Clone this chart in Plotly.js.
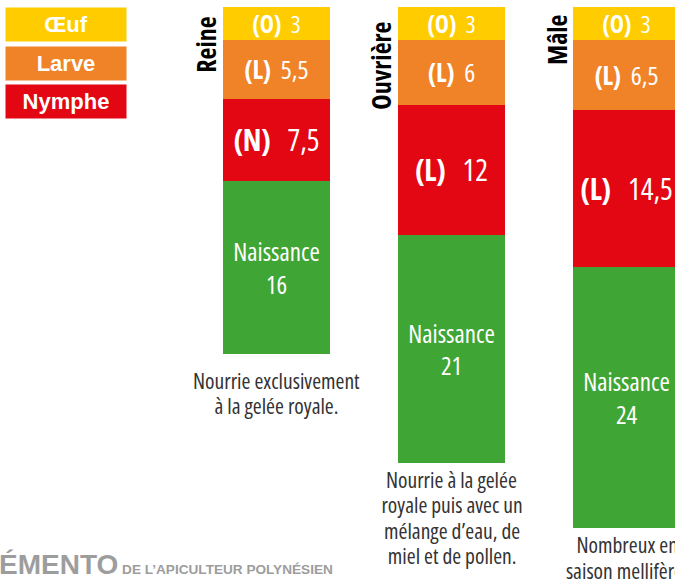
<!DOCTYPE html>
<html>
<head>
<meta charset="utf-8">
<script src="https://cdn.plot.ly/plotly-3.0.1.min.js"></script>
<style>
html,body{margin:0;padding:0;background:#fff;}
#chart{width:675px;height:583px;}
#chart svg text{font-stretch:75%;}
</style>
</head>
<body>
<div id="chart"></div>
<script>
// ---- data ----
var categories = ['Reine', 'Ouvrière', 'Mâle'];
var oeuf = [3, 3, 3];
var larve = [5.5, 6, 6.5];
var nymphe = [7.5, 12, 14.5];
var naissance = [16, 21, 24];
var oeufTags = ['(O)', '(O)', '(O)'];
var larveTags = ['(L)', '(L)', '(L)'];
var nympheTags = ['(N)', '(L)', '(L)'];
var naissanceLabel = 'Naissance';
var legendLabels = ['Œuf', 'Larve', 'Nymphe'];
var captionLines = [
  ['Nourrie exclusivement', 'à la gelée royale.'],
  ['Nourrie à la gelée', 'royale puis avec un', 'mélange d’eau, de', 'miel et de pollen.'],
  ['Nombreux en', 'saison mellifère.']
];
var footerBig = 'ÉMENTO';
var footerSmall = 'DE L’APICULTEUR POLYNÉSIEN';

// ---- style ----
var COLORS = ['#FFCC00', '#F08228', '#E30613', '#3FA535'];
var COND = '"Open Sans", sans-serif';          // rendered condensed through CSS font-stretch
var PLAIN = '"Liberation Sans", Arial, sans-serif';
var W = 675, H = 583;
function fmt(v) { return String(v).replace('.', ','); }
function py(p) { return 1 - p / H; }
function pxp(p) { return p / W; }

function seg(name, vals, tags, color, sizes, gap) {
  return {
    type: 'bar', name: name, x: categories, y: vals,
    marker: { color: color, line: { width: 0 } },
    text: vals.map(function (v, i) { return '<b>' + tags[i] + '</b>' + gap + fmt(v); }),
    textposition: 'inside', insidetextanchor: 'middle', textangle: 0,
    constraintext: 'none',
    textfont: { family: COND, color: '#ffffff', size: sizes },
    width: 0.611, hoverinfo: 'skip'
  };
}

var traces = [
  seg(legendLabels[0], oeuf, oeufTags, COLORS[0], [24, 24, 24], '  '),
  seg(legendLabels[1], larve, larveTags, COLORS[1], [26, 26, 26], '  '),
  seg(legendLabels[2], nymphe, nympheTags, COLORS[2], [30, 30, 30], '   '),
  {
    type: 'bar', name: naissanceLabel, x: categories, y: naissance,
    marker: { color: COLORS[3], line: { width: 0 } },
    text: naissance.map(function (v) { return naissanceLabel + '<br>' + fmt(v); }),
    textposition: 'inside', insidetextanchor: 'middle', textangle: 0,
    constraintext: 'none',
    textfont: { family: COND, color: '#ffffff', size: 25 },
    width: 0.611, hoverinfo: 'skip'
  }
];

var annotations = [];
// legend boxes
var legendTops = [7, 46, 84];
legendLabels.forEach(function (lab, i) {
  annotations.push({
    xref: 'paper', yref: 'paper', x: pxp(5), y: py(legendTops[i]),
    xanchor: 'left', yanchor: 'top', showarrow: false,
    text: '<b>' + lab + '</b>', width: 120, height: 33, borderpad: 0,
    bgcolor: COLORS[i], align: 'center', valign: 'middle',
    font: { family: PLAIN, size: 22, color: '#ffffff' }
  });
});
// category labels (rotated)
categories.forEach(function (c, i) {
  annotations.push({
    xref: 'x', yref: 'paper', x: i, y: py(6), xshift: -50,
    xanchor: 'right', yanchor: 'top', showarrow: false, textangle: -90,
    text: '<b>' + c + '</b>',
    font: { family: COND, size: 26, color: '#000000' }
  });
});
// captions, one annotation per line
var capOffset = [26, 17, 17];
categories.forEach(function (c, i) {
  var total = oeuf[i] + larve[i] + nymphe[i] + naissance[i];
  captionLines[i].forEach(function (line, k) {
    annotations.push({
      xref: 'x', yref: 'y', x: i, y: total, yshift: -(capOffset[i] + k * 25.3),
      xanchor: 'center', yanchor: 'middle', showarrow: false, borderpad: 0,
      text: line,
      font: { family: COND, size: 21.5, color: '#333333' }
    });
  });
});
// footer
annotations.push({
  xref: 'paper', yref: 'paper', x: pxp(-3), y: py(582), xanchor: 'left', yanchor: 'bottom',
  showarrow: false,
  text: '<b><span style="font-size:28px">' + footerBig + '</span> ' + footerSmall + '</b>',
  font: { family: PLAIN, size: 13.6, color: '#9d9d9d' }
});

var layout = {
  width: W, height: H,
  margin: { l: 0, r: 0, t: 0, b: 0 },
  font: { family: PLAIN },
  paper_bgcolor: '#ffffff', plot_bgcolor: '#ffffff',
  barmode: 'stack', bargap: 0, showlegend: false,
  xaxis: { type: 'category', range: [-1.58, 2.277], showgrid: false, zeroline: false, showticklabels: false, showline: false, ticks: '' },
  yaxis: { range: [53.09, -0.645], showgrid: false, zeroline: false, showticklabels: false, showline: false, ticks: '' },
  annotations: annotations,
  hovermode: false
};

Plotly.newPlot('chart', traces, layout, { staticPlot: true, displayModeBar: false });
</script>
</body>
</html>
